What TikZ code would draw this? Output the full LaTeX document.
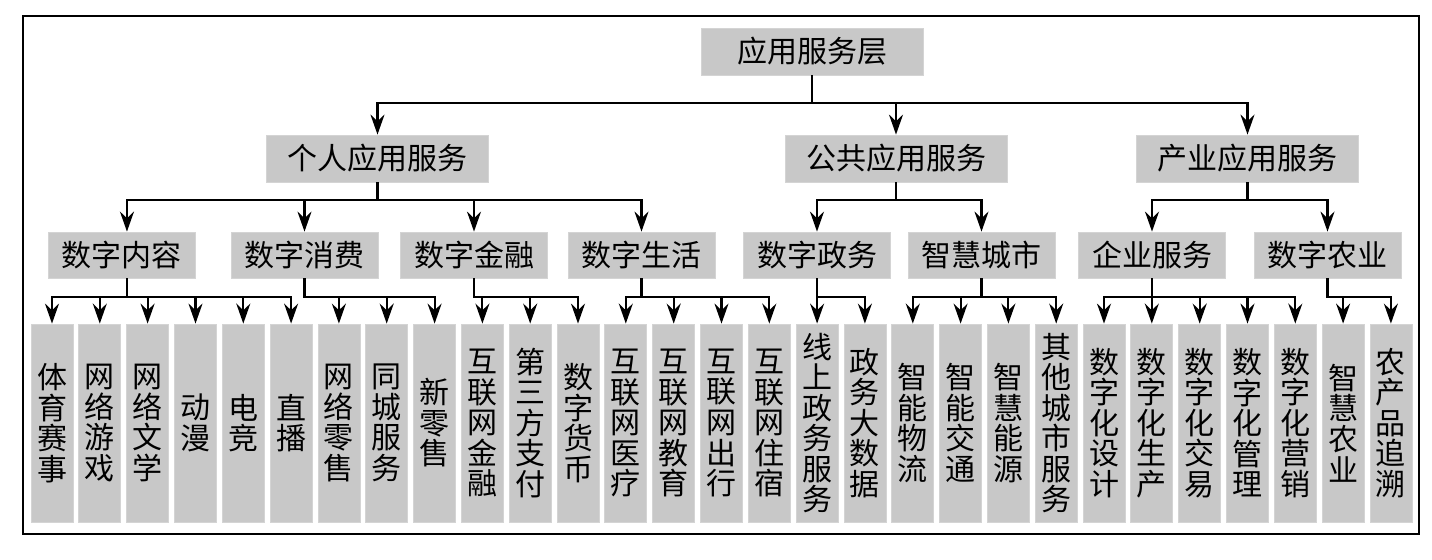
\documentclass[tikz,border=0pt]{standalone}
\usepackage{fontspec}
\newfontfamily\cjkfont{Noto Sans CJK SC}
\usepackage{tikz}
\usetikzlibrary{arrows.meta}
\definecolor{boxgray}{HTML}{C8C8C8}
\definecolor{boxedge}{HTML}{D4D4D4}

\begin{document}
\begin{tikzpicture}[
  x=0.75pt, y=-0.75pt,
  layer/.style={rectangle, fill=boxgray, draw=boxedge, line width=0.6pt, minimum width=166.5pt, minimum height=35.25pt, inner sep=0pt, font=\cjkfont\fontsize{22.5}{23}\selectfont},
  group/.style={rectangle, fill=boxgray, draw=boxedge, line width=0.6pt, minimum width=110.25pt, minimum height=34.5pt, inner sep=0pt, font=\cjkfont\fontsize{22.5}{23}\selectfont},
  leaf/.style={rectangle, fill=boxgray, draw=boxedge, line width=0.6pt, minimum width=31.5pt, minimum height=148.5pt, inner sep=0pt, align=center, font=\cjkfont\fontsize{22.5}{22.9}\selectfont},
  arrow/.style={-{Stealth[length=15pt, width=10.5pt, inset=5pt]}, line width=1.6pt}
]
\useasboundingbox (0,0) rectangle (1432,560);
\draw[line width=2.2pt] (23,16) rectangle (1419,534);

% top
\node[layer] (yingyong) at (812,51.5) {应用服务层};
\node[layer] (geren) at (377.5,158.5) {个人应用服务};
\node[layer] (gonggong) at (896,158.5) {公共应用服务};
\node[layer] (chanye) at (1247.5,158.5) {产业应用服务};

% groups
\node[group] (neirong) at (121.5,255) {数字内容};
\node[group] (xiaofei) at (304.5,255) {数字消费};
\node[group] (jinrong) at (474,255) {数字金融};
\node[group] (shenghuo) at (641.5,255) {数字生活};
\node[group] (zhengwu) at (817,255) {数字政务};
\node[group] (chengshi) at (981.5,255) {智慧城市};
\node[group] (qiye) at (1152,255) {企业服务};
\node[group] (nongye) at (1327.5,255) {数字农业};

% leaves
\node[leaf] (neirong1) at (52,423) {体\\育\\赛\\事};
\node[leaf] (neirong2) at (99.8,423) {网\\络\\游\\戏};
\node[leaf] (neirong3) at (147.6,423) {网\\络\\文\\学};
\node[leaf] (neirong4) at (195.5,423) {动\\漫};
\node[leaf] (neirong5) at (243.3,423) {电\\竞};
\node[leaf] (neirong6) at (291.1,423) {直\\播};
\node[leaf] (xiaofei1) at (338.9,423) {网\\络\\零\\售};
\node[leaf] (xiaofei2) at (386.7,423) {同\\城\\服\\务};
\node[leaf] (xiaofei3) at (434.6,423) {新\\零\\售};
\node[leaf] (jinrong1) at (482.4,423) {互\\联\\网\\金\\融};
\node[leaf] (jinrong2) at (530.2,423) {第\\三\\方\\支\\付};
\node[leaf] (jinrong3) at (578,423) {数\\字\\货\\币};
\node[leaf] (shenghuo1) at (625.8,423) {互\\联\\网\\医\\疗};
\node[leaf] (shenghuo2) at (673.7,423) {互\\联\\网\\教\\育};
\node[leaf] (shenghuo3) at (721.5,423) {互\\联\\网\\出\\行};
\node[leaf] (shenghuo4) at (769.3,423) {互\\联\\网\\住\\宿};
\node[leaf] (zhengwu1) at (817.1,423) {线\\上\\政\\务\\服\\务};
\node[leaf] (zhengwu2) at (864.9,423) {政\\务\\大\\数\\据};
\node[leaf] (chengshi1) at (912.8,423) {智\\能\\物\\流};
\node[leaf] (chengshi2) at (960.6,423) {智\\能\\交\\通};
\node[leaf] (chengshi3) at (1008.4,423) {智\\慧\\能\\源};
\node[leaf] (chengshi4) at (1056.2,423) {其\\他\\城\\市\\服\\务};
\node[leaf] (qiye1) at (1104,423) {数\\字\\化\\设\\计};
\node[leaf] (qiye2) at (1151.8,423) {数\\字\\化\\生\\产};
\node[leaf] (qiye3) at (1199.7,423) {数\\字\\化\\交\\易};
\node[leaf] (qiye4) at (1247.5,423) {数\\字\\化\\管\\理};
\node[leaf] (qiye5) at (1295.3,423) {数\\字\\化\\营\\销};
\node[leaf] (nongye1) at (1343.1,423) {智\\慧\\农\\业};
\node[leaf] (nongye2) at (1390.9,423) {农\\产\\品\\追\\溯};

% root to layers
\draw[arrow] (yingyong.south) -- ++(0,28) -| (geren.north);
\draw[arrow] (yingyong.south) -- ++(0,28) -| (gonggong.north);
\draw[arrow] (yingyong.south) -- ++(0,28) -| (chanye.north);

% layers to groups
\draw[arrow] (geren.south) -- ++(0,18) -| ([xshift=4.1pt]neirong.north);
\draw[arrow] (geren.south) -- ++(0,18) -| (xiaofei.north);
\draw[arrow] (geren.south) -- ++(0,18) -| (jinrong.north);
\draw[arrow] (geren.south) -- ++(0,18) -| (shenghuo.north);
\draw[arrow] (gonggong.south) -- ++(0,18) -| (zhengwu.north);
\draw[arrow] (gonggong.south) -- ++(0,18) -| (chengshi.north);
\draw[arrow] (chanye.south) -- ++(0,18) -| (qiye.north);
\draw[arrow] (chanye.south) -- ++(0,18) -| (nongye.north);

% groups to leaves
\draw[arrow] ([xshift=4.1pt]neirong.south) -- ++(0,19) -| (neirong1.north);
\draw[arrow] ([xshift=4.1pt]neirong.south) -- ++(0,19) -| (neirong2.north);
\draw[arrow] ([xshift=4.1pt]neirong.south) -- ++(0,19) -| (neirong3.north);
\draw[arrow] ([xshift=4.1pt]neirong.south) -- ++(0,19) -| (neirong4.north);
\draw[arrow] ([xshift=4.1pt]neirong.south) -- ++(0,19) -| (neirong5.north);
\draw[arrow] ([xshift=4.1pt]neirong.south) -- ++(0,19) -| (neirong6.north);
\draw[arrow] (xiaofei.south) -- ++(0,19) -| (xiaofei1.north);
\draw[arrow] (xiaofei.south) -- ++(0,19) -| (xiaofei2.north);
\draw[arrow] (xiaofei.south) -- ++(0,19) -| (xiaofei3.north);
\draw[arrow] (jinrong.south) -- ++(0,19) -| (jinrong1.north);
\draw[arrow] (jinrong.south) -- ++(0,19) -| (jinrong2.north);
\draw[arrow] (jinrong.south) -- ++(0,19) -| (jinrong3.north);
\draw[arrow] (shenghuo.south) -- ++(0,19) -| (shenghuo1.north);
\draw[arrow] (shenghuo.south) -- ++(0,19) -| (shenghuo2.north);
\draw[arrow] (shenghuo.south) -- ++(0,19) -| (shenghuo3.north);
\draw[arrow] (shenghuo.south) -- ++(0,19) -| (shenghuo4.north);
\draw[arrow] (zhengwu.south) -- ++(0,19) -| (zhengwu1.north);
\draw[arrow] (zhengwu.south) -- ++(0,19) -| (zhengwu2.north);
\draw[arrow] (chengshi.south) -- ++(0,19) -| (chengshi1.north);
\draw[arrow] (chengshi.south) -- ++(0,19) -| (chengshi2.north);
\draw[arrow] (chengshi.south) -- ++(0,19) -| (chengshi3.north);
\draw[arrow] (chengshi.south) -- ++(0,19) -| (chengshi4.north);
\draw[arrow] (qiye.south) -- ++(0,19) -| (qiye1.north);
\draw[arrow] (qiye.south) -- ++(0,19) -| (qiye2.north);
\draw[arrow] (qiye.south) -- ++(0,19) -| (qiye3.north);
\draw[arrow] (qiye.south) -- ++(0,19) -| (qiye4.north);
\draw[arrow] (qiye.south) -- ++(0,19) -| (qiye5.north);
\draw[arrow] (nongye.south) -- ++(0,19) -| (nongye1.north);
\draw[arrow] (nongye.south) -- ++(0,19) -| (nongye2.north);
\end{tikzpicture}
\end{document}
